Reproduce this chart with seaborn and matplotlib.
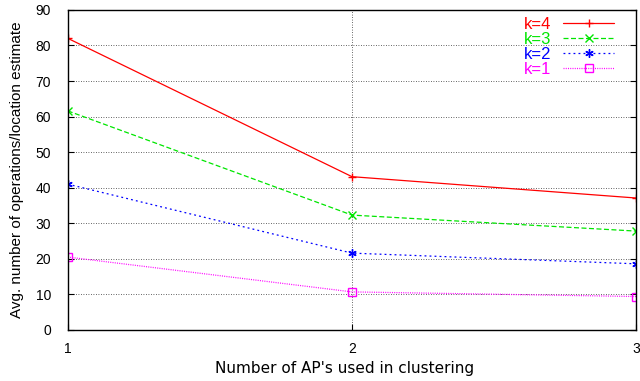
import matplotlib
matplotlib.use("Agg")
import matplotlib.pyplot as plt
import seaborn as sns
import pandas as pd

x_vals = [1, 2, 3]
k4 = [82.0, 43.1, 37.1]
k3 = [61.6, 32.3, 27.8]
k2 = [41.0, 21.6, 18.6]
k1 = [20.5, 10.7, 9.4]
labels = ["k=4", "k=3", "k=2", "k=1"]
y_ticks = [0, 10, 20, 30, 40, 50, 60, 70, 80, 90]
x_ticks = [1, 2, 3]

sns.set_style("ticks")
plt.rcParams['font.family'] = ['Liberation Sans', 'DejaVu Sans']
plt.rcParams['text.color'] = 'black'
plt.rcParams['axes.labelcolor'] = 'black'

fig = plt.figure(figsize=(6.4, 3.81), dpi=100)
ax = fig.add_axes([0.106, 0.134, 0.888, 0.84])

series = [k4, k3, k2, k1]
colors = ["#ff0000", "#00e600", "#0000ff", "#ff00ff"]
markers = ["+", "x", (6, 2, 0), "s"]
dashes = [None, (4, 2), (1.5, 2.5), (0.8, 1)]

for vals, lab, c, m, d in zip(series, labels, colors, markers, dashes):
    df = pd.DataFrame({"x": x_vals, "y": vals})
    mfc = "none" if m == "s" else c
    sns.lineplot(data=df, x="x", y="y", ax=ax, color=c, marker=m,
                 markersize=6, markerfacecolor=mfc, markeredgecolor=c,
                 markeredgewidth=1.0, linewidth=0.9, label=lab)
    l = ax.get_lines()[-1]
    if d is not None:
        l.set_dashes(d)

ax.set_xlim(1, 3)
ax.set_ylim(0, 90)
ax.set_xticks(x_ticks)
ax.set_yticks(y_ticks)
ax.tick_params(direction="in", length=4, width=0.8, labelsize=10, colors="black",
               right=True, top=False)
ax.tick_params(axis="y", pad=12)
ax.tick_params(axis="x", pad=9)
for s in ax.spines.values():
    s.set_color("black")
    s.set_linewidth(1.0)
ax.grid(True, color="black", linestyle=(0, (1, 2)), linewidth=0.6, alpha=0.8)
ax.set_xlabel("Number of AP's used in clustering", fontsize=11,
              family=['DejaVu Sans'])
ax.xaxis.set_label_coords(0.487, -0.097)
ax.xaxis.label.set_va("top")
ax.set_ylabel("Avg. number of operations/location estimate", fontsize=11)
ax.yaxis.set_label_coords(-0.077, 0.5)

leg = ax.legend(loc="upper right", frameon=False, markerfirst=False, fontsize=12,
                handlelength=3.05, labelspacing=0.0, handletextpad=0.7,
                borderpad=0, borderaxespad=0,
                bbox_to_anchor=(614 / 640, 1 - 17 / 381),
                bbox_transform=fig.transFigure)
for t, c in zip(leg.get_texts(), colors):
    t.set_color(c)

fig.savefig("out.png", dpi=100, facecolor="white")
